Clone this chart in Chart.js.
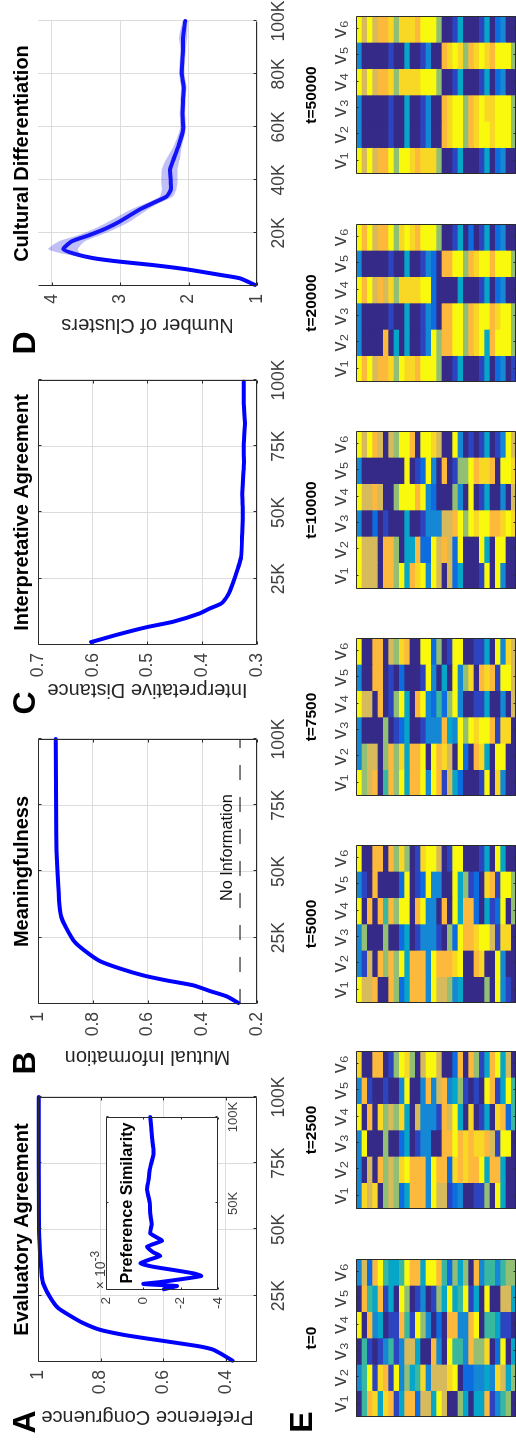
<!DOCTYPE html>
<html>
<head>
<meta charset="utf-8">
<script src="https://cdn.jsdelivr.net/npm/chart.js@4"></script>
<style>
  html, body { margin: 0; padding: 0; background: #fff; width: 516px; height: 1442px; overflow: hidden; }
  /* the whole figure is laid out landscape, then turned a quarter to the left */
  #figure { position: absolute; left: 0; top: 0; width: 1442px; height: 516px; overflow: hidden;
            transform-origin: 0 0; transform: rotate(-90deg) translateX(-1442px); filter: blur(0.35px);
            font-family: "Liberation Sans", Arial, sans-serif; }
  #figure canvas { position: absolute; }
  .letter { position: absolute; font-size: 32px; font-weight: bold; line-height: 1; color: #000; transform: translate(-50%, -50%); }
  .power { position: absolute; font-size: 14px; color: #404040; white-space: nowrap; transform: translate(-50%, -50%); }
  .power sup { font-size: 12px; }
</style>
</head>
<body>
<div id="figure">
  <div class="letter" style="left:20px;top:24px">A</div>
  <div class="letter" style="left:379px;top:24px">B</div>
  <div class="letter" style="left:739px;top:24px">C</div>
  <div class="letter" style="left:1099px;top:24px">D</div>
  <div class="letter" style="left:20px;top:301px">E</div>
  <div class="power" style="left:172px;top:98px;z-index:3">&times; 10<sup>-3</sup></div>
</div>
<script>
// x values are in thousands of interactions
const congruenceX = [0.5, 3.1, 4.7, 5.9, 7.8, 9.1, 10.3, 12.2, 14.7, 17.2, 20.4, 24.8, 29.8, 33.6, 50, 100];
const congruenceY = [0.378, 0.415, 0.441, 0.484, 0.59, 0.665, 0.729, 0.803, 0.856, 0.894, 0.936, 0.963, 0.984, 0.989, 0.997, 0.998];

const similarityX = [0.4, 1.5, 2.3, 3.5, 4.6, 6.2, 8.1, 9.6, 11.6, 13.5, 15.4, 17.5, 19.7, 22, 25, 28.5, 30.5, 32.8, 38, 44, 50, 58, 63.6, 70, 79, 88, 94, 100];
const similarityY = [-1.1, -1.5, -1.8, 0, -0.9, -2.0, -3.1, -2.7, -1.6, -0.5, 0.15, -0.3, -0.9, -0.5, -0.2, -1.0, -0.7, -0.37, -0.45, -0.37, -0.35, -0.2, -0.28, -0.35, -0.55, -0.46, -0.42, -0.37];

const mutualX = [0.4, 2.9, 4.9, 7.05, 8.9, 10.8, 13.4, 16.2, 19.6, 23.4, 28.5, 32.9, 39.2, 51.8, 64.4, 100];
const mutualY = [0.268, 0.311, 0.372, 0.433, 0.53, 0.616, 0.701, 0.774, 0.823, 0.866, 0.896, 0.915, 0.923, 0.93, 0.933, 0.935];
const noInfoX = [0, 100];
const noInfoY = [0.262, 0.262];

const distanceX = [1.1, 3.8, 6.7, 8.8, 11.9, 13.8, 15.7, 18.9, 23.3, 28.9, 33.3, 42.1, 50.9, 57, 67.3, 76, 83.6, 91, 99.4];
const distanceY = [0.603, 0.557, 0.502, 0.453, 0.405, 0.386, 0.365, 0.353, 0.344, 0.335, 0.329, 0.327, 0.326, 0.327, 0.324, 0.324, 0.322, 0.324, 0.324];

const clustersX = [0.4, 2.9, 4.2, 6.3, 7.9, 9.2, 10.5, 12.1, 13.9, 16.8, 19.3, 21.8, 24.3, 28.8, 31.3, 33.8, 36.3, 39.5, 43.9, 47.7, 52.7, 59, 65.3, 70.4, 74.8, 80.5, 89.3, 93.7, 100];
const clustersY = [1.03, 1.25, 1.54, 2.03, 2.52, 3.01, 3.39, 3.66, 3.83, 3.71, 3.44, 3.2, 3.01, 2.72, 2.52, 2.32, 2.26, 2.26, 2.27, 2.22, 2.15, 2.08, 2.09, 2.08, 2.07, 2.1, 2.08, 2.08, 2.05];
const clustersHigh = [1.04, 1.27, 1.56, 2.05, 2.55, 3.05, 3.46, 3.82, 4.05, 3.9, 3.6, 3.36, 3.17, 2.85, 2.62, 2.42, 2.39, 2.4, 2.39, 2.33, 2.22, 2.13, 2.13, 2.12, 2.11, 2.14, 2.12, 2.14, 2.09];
const clustersLow = [1.02, 1.23, 1.52, 2.01, 2.49, 2.97, 3.33, 3.58, 3.62, 3.52, 3.28, 3.05, 2.86, 2.6, 2.43, 2.23, 2.18, 2.16, 2.16, 2.13, 2.1, 2.04, 2.05, 2.04, 2.03, 2.06, 2.04, 2.02, 2.01];

const tickK25 = [25, 50, 75, 100];
const tickK20 = [20, 40, 60, 80, 100];
const tickInset = [50, 100];

const varLabels = ['v\u2081', 'v\u2082', 'v\u2083', 'v\u2084', 'v\u2085', 'v\u2086'];

// colour levels of the heat maps, low to high
const heatColors = ['#352a87', '#2d44c0', '#0d6de0', '#1488d4', '#06a6c8', '#3ab79f', '#93bf75', '#d6ba5b', '#fdb93c', '#f8d824', '#f9f90e'];

// one row per variable v1..v6, 30 cells each, read as colour levels
const heatT0 = [
  [0,5,8,9,4,9,8,1,4,8,8,2,7,7,4,10,7,0,0,6,4,0,4,4,8,1,3,5,6,0],
  [3,5,10,1,9,8,1,10,3,6,4,5,9,3,7,7,7,9,10,0,2,2,3,3,4,3,9,7,4,6],
  [0,5,1,0,1,3,5,1,3,7,7,4,0,0,8,3,0,10,5,5,3,8,6,6,9,0,2,10,0,4],
  [10,0,8,3,4,0,1,1,8,5,1,10,6,3,0,2,0,8,8,3,3,8,10,0,5,5,4,1,1,0],
  [0,8,5,4,8,1,4,0,10,6,0,1,3,0,1,6,4,10,4,5,10,1,4,0,10,0,0,7,7,4],
  [3,7,2,8,10,5,4,4,5,10,8,8,4,10,10,8,5,2,6,4,6,0,8,3,5,5,3,5,6,6]
];
const heatT2500 = [
  [3,9,7,9,0,6,7,6,2,4,8,8,8,3,10,7,7,1,2,3,0,0,1,1,6,0,10,4,0,0],
  [3,0,7,0,8,6,7,6,9,10,8,8,8,3,10,8,8,2,9,8,9,8,8,10,4,8,8,4,0,0],
  [3,10,0,0,0,6,0,0,2,4,0,1,3,3,0,0,8,8,10,8,9,8,9,9,8,7,1,10,10,0],
  [10,0,8,0,9,6,7,6,9,4,0,7,3,3,3,1,8,7,10,4,0,9,0,1,4,0,9,8,2,5],
  [3,8,1,0,0,1,0,0,3,10,0,0,3,8,3,7,8,3,4,6,1,0,1,0,10,8,1,4,10,5],
  [9,0,0,8,8,0,1,6,10,9,6,0,7,10,10,7,0,0,2,8,0,8,6,1,4,8,10,4,7,0]
];
const heatT5000 = [
  [10,7,7,8,0,0,8,6,2,4,8,8,8,3,10,7,7,6,3,4,0,0,0,0,6,0,10,3,1,0],
  [3,1,7,0,8,6,8,6,10,4,8,8,8,3,10,8,8,8,9,10,0,0,8,9,0,0,10,3,0,0],
  [3,6,0,0,0,6,0,0,2,4,0,1,3,3,3,1,0,6,2,10,8,8,9,10,10,7,1,9,9,0],
  [10,0,8,0,8,5,8,6,10,10,0,8,10,3,3,0,8,0,10,4,8,8,2,0,4,1,2,10,0,6],
  [3,1,0,8,0,0,0,0,2,10,0,1,2,10,3,3,0,0,10,4,6,1,2,0,9,8,1,10,10,6],
  [10,0,0,8,8,0,8,6,9,6,0,1,9,10,10,7,0,1,10,10,0,0,0,1,4,0,10,4,0,0]
];
const heatT7500 = [
  [10,6,7,8,0,5,8,6,10,4,8,8,10,3,10,8,1,7,4,2,0,0,0,1,10,0,9,3,0,0],
  [3,6,7,7,0,6,8,6,9,4,8,8,10,0,10,8,9,7,0,10,2,0,8,9,4,0,10,10,0,0],
  [3,0,0,0,0,6,0,1,2,4,0,0,1,3,3,3,8,4,3,10,6,10,9,10,10,8,1,9,9,0],
  [10,7,7,0,8,0,1,6,10,4,0,8,10,3,2,5,2,6,10,3,0,0,1,1,4,0,0,3,0,7],
  [3,0,0,8,8,0,1,0,2,0,0,0,1,10,3,0,4,0,10,3,6,9,0,8,9,8,1,10,10,7],
  [10,0,0,8,8,0,7,6,9,8,0,0,10,10,2,6,0,1,10,10,0,0,1,1,4,0,10,3,9,7]
];
const heatT10000 = [
  [10,7,7,7,0,8,8,6,10,4,8,9,10,3,10,7,0,7,2,4,0,0,0,1,10,0,10,3,0,0],
  [10,7,7,7,0,8,8,6,0,4,4,8,2,2,10,7,8,7,2,10,0,0,0,10,4,0,10,10,0,0],
  [3,0,0,2,0,1,0,0,0,4,0,0,1,3,3,3,7,7,8,10,6,10,9,10,10,8,8,9,10,9],
  [10,7,7,8,7,0,0,6,10,10,10,8,10,3,2,0,0,0,6,3,0,10,0,1,4,0,0,3,0,7],
  [3,0,0,0,0,0,0,0,0,10,0,1,2,10,3,0,8,0,1,6,6,10,8,9,9,8,0,10,10,9],
  [10,7,10,8,7,0,7,6,10,10,8,0,10,10,9,7,0,0,10,3,0,1,0,1,4,0,1,3,10,7]
];
const heatT20000 = [
  [10,8,10,7,8,8,9,6,10,9,9,8,10,10,10,6,0,0,1,4,0,0,0,1,4,0,2,3,0,1],
  [3,0,0,0,0,8,0,4,0,4,0,0,1,3,10,6,8,8,10,10,6,8,9,10,4,8,10,10,10,6],
  [3,0,0,0,0,0,1,0,0,4,0,0,1,3,2,0,8,8,10,10,6,8,9,10,10,8,9,10,10,6],
  [10,8,10,7,8,7,9,6,9,9,9,9,10,10,2,0,0,0,0,4,0,0,0,1,4,0,2,3,0,0],
  [3,0,0,0,0,0,1,0,0,4,0,0,1,3,2,0,8,8,10,10,6,8,9,10,10,8,10,10,10,6],
  [10,8,10,7,8,8,10,6,9,10,9,8,10,10,10,6,0,0,1,4,0,2,0,1,4,0,2,3,0,0]
];
const heatT50000 = [
  [10,7,10,7,8,8,10,6,10,10,9,8,9,9,9,6,0,0,1,4,0,0,0,1,4,0,2,3,0,0],
  [3,0,0,0,0,0,1,0,0,4,0,0,1,3,0,0,8,9,10,10,6,8,9,10,10,9,10,10,10,6],
  [3,0,0,0,0,0,1,0,0,4,0,0,1,3,0,0,8,9,10,10,6,8,9,10,9,9,10,10,10,6],
  [10,7,10,7,8,8,9,6,9,9,9,9,10,10,10,6,0,0,1,4,0,0,0,1,4,0,2,3,0,0],
  [3,0,0,0,0,0,1,0,0,4,0,0,1,3,0,0,8,9,10,9,6,8,9,10,9,8,10,10,10,6],
  [10,7,10,7,8,8,9,6,9,9,9,8,10,10,10,6,0,0,1,4,0,0,0,1,4,0,2,3,0,0]
];

const fontFamily = '"Liberation Sans", "DejaVu Sans", Arial, sans-serif';
const tickColor = '#404040';
const gridColor = '#dcdcdc';
const frameColor = '#2b2b2b';
const lineBlue = '#0000ff';

Chart.defaults.font.family = fontFamily;
Chart.defaults.animation = false;

function zip(xs, ys) {
  return xs.map((x, i) => ({ x: x, y: ys[i] }));
}

// draws the Matlab style box, inward ticks and any free notes placed in data units
const framePlugin = {
  id: 'frame',
  beforeDraw(chart, args, opts) {
    if (!opts.background) return;
    const a = chart.chartArea;
    chart.ctx.fillStyle = opts.background;
    chart.ctx.fillRect(a.left, a.top, a.width, a.height);
  },
  afterDraw(chart, args, opts) {
    const ctx = chart.ctx;
    const a = chart.chartArea;
    const len = opts.tickLen === undefined ? 3 : opts.tickLen;
    ctx.save();
    ctx.strokeStyle = frameColor;
    ctx.lineWidth = 1;
    ctx.beginPath();
    const l = Math.round(a.left) + 0.5, r = Math.round(a.right) - 0.5;
    const t = Math.round(a.top) + 0.5, b = Math.round(a.bottom) - 0.5;
    ctx.moveTo(l, t); ctx.lineTo(l, b); ctx.lineTo(r, b);
    if (opts.box) { ctx.lineTo(r, t); ctx.lineTo(l, t); }
    const xs = chart.scales.x;
    xs.ticks.forEach((tk, i) => {
      const px = Math.round(xs.getPixelForTick(i)) + 0.5;
      ctx.moveTo(px, b); ctx.lineTo(px, b - len);
      if (opts.box) { ctx.moveTo(px, t); ctx.lineTo(px, t + len); }
    });
    const ys = chart.scales.y;
    if (ys.options.display) {
      ys.ticks.forEach((tk, i) => {
        const py = Math.round(ys.getPixelForTick(i)) + 0.5;
        ctx.moveTo(l, py); ctx.lineTo(l + len, py);
        if (opts.box) { ctx.moveTo(r, py); ctx.lineTo(r - len, py); }
      });
    }
    ctx.stroke();
    (opts.notes || []).forEach(n => {
      ctx.font = (n.bold ? 'bold ' : '') + n.size + 'px ' + fontFamily;
      ctx.fillStyle = n.color || '#000';
      ctx.textAlign = 'center';
      ctx.textBaseline = 'middle';
      ctx.fillText(n.text, xs.getPixelForValue(n.x), ys.getPixelForValue(n.y));
    });
    ctx.restore();
  }
};
Chart.register(framePlugin);

function addCanvas(left, top, width, height, z) {
  const c = document.createElement('canvas');
  c.width = width;
  c.height = height;
  c.style.left = left + 'px';
  c.style.top = top + 'px';
  c.style.width = width + 'px';
  c.style.height = height + 'px';
  if (z) c.style.zIndex = z;
  document.getElementById('figure').appendChild(c);
  return c;
}

function fixedScale(size, dim) {
  return s => {
    s[dim] = size;
    s.paddingLeft = s.paddingRight = s.paddingTop = s.paddingBottom = 0;
  };
}

function setTicks(values) {
  return s => { s.ticks = values.map(v => ({ value: v })); };
}

// p: plot rectangle in the landscape figure
function linePanel(p, cfg) {
  const m = { top: 29, bottom: 40, right: 25, left: cfg.titleGap + 12 };
  const canvas = addCanvas(p.u - m.left, p.v - m.top, m.left + p.w + m.right, m.top + p.h + m.bottom);
  return new Chart(canvas, {
    type: 'line',
    data: { datasets: cfg.datasets },
    options: {
      responsive: false,
      layout: { padding: { top: 0, left: 0, bottom: 0, right: m.right } },
      elements: { point: { radius: 0 } },
      plugins: {
        legend: { display: false },
        tooltip: { enabled: false },
        title: {
          display: true, text: cfg.title, fullSize: false, color: '#000',
          font: { size: 20, weight: 'bold', lineHeight: '24px' },
          padding: { top: 1, bottom: 4 }
        },
        frame: { box: cfg.box !== false, notes: cfg.notes }
      },
      scales: {
        x: {
          type: 'linear', min: 0, max: 100,
          grid: { color: gridColor, drawTicks: false },
          border: { display: false },
          afterBuildTicks: setTicks(cfg.xTicks),
          afterFit: fixedScale(m.bottom, 'height'),
          ticks: { color: tickColor, font: { size: 17.5 }, padding: 12, maxRotation: 0, minRotation: 0, autoSkip: false,
                   callback: v => v + 'K' }
        },
        y: {
          min: cfg.yMin, max: cfg.yMax,
          grid: { color: gridColor, drawTicks: false },
          border: { display: false },
          afterBuildTicks: setTicks(cfg.yTicks),
          afterFit: fixedScale(m.left, 'width'),
          title: { display: true, text: cfg.yTitle, color: '#262626', padding: 0, font: { size: 20, lineHeight: '24px' } },
          ticks: { color: tickColor, font: { size: 17.5 }, padding: 8, autoSkip: false, callback: v => String(v) }
        }
      }
    }
  });
}

function blueLine(xs, ys) {
  return { data: zip(xs, ys), borderColor: lineBlue, borderWidth: 4, tension: 0.2, clip: false, borderJoinStyle: 'round', borderCapStyle: 'round' };
}

linePanel({ u: 80, v: 38, w: 265, h: 219 }, {
  title: 'Evaluatory Agreement', yTitle: 'Preference Congruence', titleGap: 55,
  yMin: 0.3, yMax: 1, yTicks: [0.4, 0.6, 0.8, 1], xTicks: tickK25,
  datasets: [blueLine(congruenceX, congruenceY)]
});

linePanel({ u: 438, v: 38, w: 265, h: 219 }, {
  title: 'Meaningfulness', yTitle: 'Mutual Information', titleGap: 53,
  yMin: 0.2, yMax: 1, yTicks: [0.2, 0.4, 0.6, 0.8, 1], xTicks: tickK25,
  datasets: [
    blueLine(mutualX, mutualY),
    { data: zip(noInfoX, noInfoY), borderColor: '#000', borderWidth: 1, borderDash: [15, 17] }
  ],
  notes: [{ text: 'No Information', x: 59, y: 0.306, size: 16.3, color: '#111' }]
});

linePanel({ u: 797, v: 38, w: 265, h: 219 }, {
  title: 'Interpretative Agreement', yTitle: 'Interpretative Distance', titleGap: 45,
  yMin: 0.3, yMax: 0.7, yTicks: [0.3, 0.4, 0.5, 0.6, 0.7], xTicks: tickK25,
  datasets: [blueLine(distanceX, distanceY)]
});

linePanel({ u: 1156, v: 38, w: 265, h: 219 }, {
  title: 'Cultural Differentiation', yTitle: 'Number of Clusters', titleGap: 39, box: false,
  yMin: 1, yMax: 4.2, yTicks: [1, 2, 3, 4], xTicks: tickK20,
  datasets: [
    { data: zip(clustersX, clustersHigh), borderWidth: 0, fill: '+1', backgroundColor: 'rgba(60,60,230,0.32)', tension: 0.2 },
    { data: zip(clustersX, clustersLow), borderWidth: 0, tension: 0.2 },
    blueLine(clustersX, clustersY)
  ]
});

// inset of panel A
new Chart(addCanvas(152 - 30, 106 - 10, 30 + 173 + 25, 10 + 112 + 30, 2), {
  type: 'line',
  data: { datasets: [Object.assign(blueLine(similarityX, similarityY), { tension: 0.15 })] },
  options: {
    responsive: false,
    layout: { padding: { top: 10, right: 25, left: 0, bottom: 0 } },
    elements: { point: { radius: 0 } },
    plugins: {
      legend: { display: false },
      tooltip: { enabled: false },
      frame: {
        box: true, background: '#fff', tickLen: 2,
        notes: [{ text: 'Preference Similarity', x: 50.3, y: 0.82, size: 16.2, bold: true }]
      }
    },
    scales: {
      x: {
        type: 'linear', min: 0, max: 100,
        grid: { display: false, drawTicks: false },
        border: { display: false },
        afterBuildTicks: setTicks(tickInset),
        afterFit: fixedScale(30, 'height'),
        ticks: { color: tickColor, font: { size: 13 }, padding: 8, maxRotation: 0, minRotation: 0, autoSkip: false, callback: v => v + 'K' }
      },
      y: {
        min: -4, max: 2,
        grid: { display: false, drawTicks: false },
        border: { display: false },
        afterBuildTicks: setTicks([-4, -2, 0, 2]),
        afterFit: fixedScale(30, 'width'),
        ticks: { color: tickColor, font: { size: 13.5 }, padding: 7, autoSkip: false, callback: v => String(v) }
      }
    }
  }
});

// heat maps: each variable is one full column of 30 stacked unit bars
function heatPanel(u, title, matrix) {
  const w = 158, h = 160, top = 56;
  const canvas = addCanvas(u - 2, 356 - top, w + 4, top + h);
  const datasets = matrix[0].map((_, k) => ({
    data: matrix.map(() => 1),
    backgroundColor: matrix.map(row => heatColors[row[k]]),
    borderWidth: 0,
    barPercentage: 1,
    categoryPercentage: 1
  }));
  new Chart(canvas, {
    type: 'bar',
    data: { labels: varLabels, datasets: datasets },
    options: {
      responsive: false,
      layout: { padding: { left: 2, right: 2, top: 0, bottom: 0 } },
      plugins: {
        legend: { display: false },
        tooltip: { enabled: false },
        title: {
          display: true, text: title, fullSize: false, color: '#000',
          font: { size: 15.5, weight: 'bold', lineHeight: '18px' },
          padding: { top: 3, bottom: 5 }
        },
        frame: { box: true, tickLen: 2 }
      },
      scales: {
        x: {
          position: 'top', stacked: true,
          grid: { display: false, drawTicks: false },
          border: { display: false },
          afterFit: fixedScale(30, 'height'),
          ticks: { color: tickColor, font: { size: 20 }, padding: 4, maxRotation: 0, minRotation: 0, autoSkip: false }
        },
        y: { display: false, stacked: true, reverse: true, min: 0, max: 30 }
      }
    }
  });
}

heatPanel(25, 't=0', heatT0);
heatPanel(233, 't=2500', heatT2500);
heatPanel(439, 't=5000', heatT5000);
heatPanel(646, 't=7500', heatT7500);
heatPanel(853, 't=10000', heatT10000);
heatPanel(1060, 't=20000', heatT20000);
heatPanel(1268, 't=50000', heatT50000);
</script>
</body>
</html>
